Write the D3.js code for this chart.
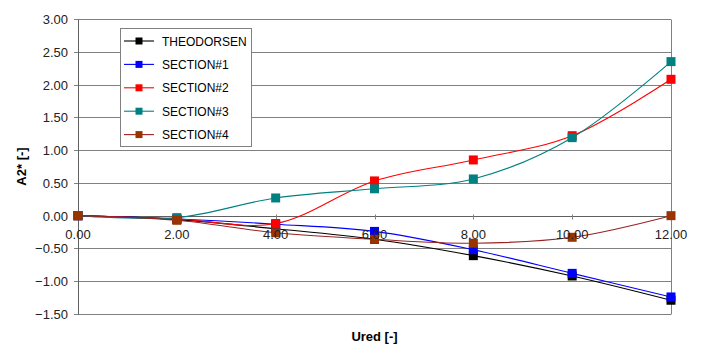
<!DOCTYPE html>
<html>
<head>
<meta charset="utf-8">
<script src="https://cdn.jsdelivr.net/npm/d3@7"></script>
<style>
  body { margin: 0; background: #fff; }
  svg { display: block; font-family: Arial, "Liberation Sans", sans-serif; }
</style>
</head>
<body>
<div id="chart"></div>
<script>
// Ured values along the x axis
const ured = [0, 2, 4, 6, 8, 10, 12];

// A2* per series
const theodorsen = [0, -0.06, -0.20, -0.36, -0.61, -0.92, -1.29];
const section1 = [0, -0.05, -0.13, -0.24, -0.52, -0.88, -1.24];
const section2 = [0, -0.05, -0.12, 0.53, 0.85, 1.22, 2.08];
const section3 = [0, -0.03, 0.27, 0.41, 0.56, 1.19, 2.35];
const section4 = [0, -0.07, -0.26, -0.36, -0.42, -0.33, 0.00];

const seriesNames = ['THEODORSEN', 'SECTION#1', 'SECTION#2', 'SECTION#3', 'SECTION#4'];
const markerColors = ['#000000', '#0000ff', '#ff0000', '#008080', '#993300'];
const lineColors = ['#000000', '#0000ff', '#ff0000', '#008080', '#992222'];
const seriesValues = [theodorsen, section1, section2, section3, section4];

const xTicks = [0, 2, 4, 6, 8, 10, 12];
const yTicks = [-1.5, -1, -0.5, 0, 0.5, 1, 1.5, 2, 2.5, 3];

const width = 702, height = 345;
const plot = { left: 78, right: 671, top: 19, bottom: 314 };

const svg = d3.select('#chart').append('svg')
  .attr('width', width)
  .attr('height', height);

const x = d3.scaleLinear().domain([0, 12]).range([plot.left, plot.right]);
const y = d3.scaleLinear().domain([-1.5, 3]).range([plot.bottom, plot.top]);

// Gridlines
svg.append('g').selectAll('line').data(yTicks).join('line')
  .attr('x1', plot.left - 4).attr('x2', plot.right)
  .attr('y1', d => Math.round(y(d)) + 0.5).attr('y2', d => Math.round(y(d)) + 0.5)
  .attr('stroke', '#808080').attr('stroke-width', 1);

// Right border
svg.append('line')
  .attr('x1', plot.right + 0.5).attr('x2', plot.right + 0.5)
  .attr('y1', Math.round(y(3)) + 0.5).attr('y2', Math.round(y(-1.5)) + 0.5)
  .attr('stroke', '#808080');

// Left axis line
svg.append('line')
  .attr('x1', plot.left + 0.5).attr('x2', plot.left + 0.5)
  .attr('y1', Math.round(y(3)) + 0.5).attr('y2', Math.round(y(-1.5)) + 0.5)
  .attr('stroke', '#606060');

// Y tick labels
svg.append('g').selectAll('text').data(yTicks).join('text')
  .attr('x', plot.left - 10)
  .attr('y', d => y(d) + 5)
  .attr('text-anchor', 'end')
  .attr('font-size', 13)
  .attr('fill', '#222')
  .text(d => d3.format('.2f')(d));

// X axis at zero with small cross ticks
const y0 = Math.round(y(0)) + 0.5;
svg.append('line')
  .attr('x1', plot.left).attr('x2', plot.right)
  .attr('y1', y0).attr('y2', y0)
  .attr('stroke', '#606060');
svg.append('g').selectAll('line').data(xTicks).join('line')
  .attr('x1', d => Math.round(x(d)) + 0.5).attr('x2', d => Math.round(x(d)) + 0.5)
  .attr('y1', y0 - 2).attr('y2', y0 + 3)
  .attr('stroke', '#808080');

// Series lines (smoothed)
const line = d3.line()
  .x((d, i) => x(ured[i]))
  .y(d => y(d))
  .curve(d3.curveCatmullRom.alpha(0.5));

seriesValues.forEach((vals, s) => {
  svg.append('path')
    .datum(vals)
    .attr('d', line)
    .attr('fill', 'none')
    .attr('stroke', lineColors[s])
    .attr('stroke-width', 1.1);
});

// Markers
seriesValues.forEach((vals, s) => {
  svg.append('g').selectAll('rect').data(vals).join('rect')
    .attr('x', (d, i) => x(ured[i]) - 4.5)
    .attr('y', d => y(d) - 4.5)
    .attr('width', 9).attr('height', 9)
    .attr('fill', markerColors[s]);
});

// X tick labels (drawn over the plot, under the zero line)
svg.append('g').selectAll('text').data(xTicks).join('text')
  .attr('x', d => x(d))
  .attr('y', y(0) + 23)
  .attr('text-anchor', 'middle')
  .attr('font-size', 13)
  .attr('fill', '#222')
  .text(d => d3.format('.2f')(d));

// Axis titles
svg.append('text')
  .attr('x', (plot.left + plot.right) / 2)
  .attr('y', 341)
  .attr('text-anchor', 'middle')
  .attr('font-size', 13)
  .attr('font-weight', 'bold')
  .text('Ured [-]');

svg.append('text')
  .attr('transform', `translate(26,${(plot.top + plot.bottom) / 2}) rotate(-90)`)
  .attr('text-anchor', 'middle')
  .attr('font-size', 13)
  .attr('font-weight', 'bold')
  .text('A2* [-]');

// Legend
const legend = svg.append('g').attr('transform', 'translate(120,28)');
legend.append('rect')
  .attr('x', 0.5).attr('y', 0.5)
  .attr('width', 131).attr('height', 118)
  .attr('fill', '#fff')
  .attr('stroke', '#808080');

const item = legend.selectAll('g.item').data(seriesNames).join('g')
  .attr('class', 'item')
  .attr('transform', (d, i) => `translate(0,${13 + i * 23.4})`);
item.append('line')
  .attr('x1', 4).attr('x2', 34)
  .attr('stroke', (d, i) => lineColors[i])
  .attr('stroke-width', 1.1);
item.append('rect')
  .attr('x', 15.5).attr('y', -3.5)
  .attr('width', 7).attr('height', 7)
  .attr('fill', (d, i) => markerColors[i]);
item.append('text')
  .attr('x', 42)
  .attr('y', 4.5)
  .attr('font-size', 12)
  .attr('fill', '#000')
  .text(d => d);
</script>
</body>
</html>
